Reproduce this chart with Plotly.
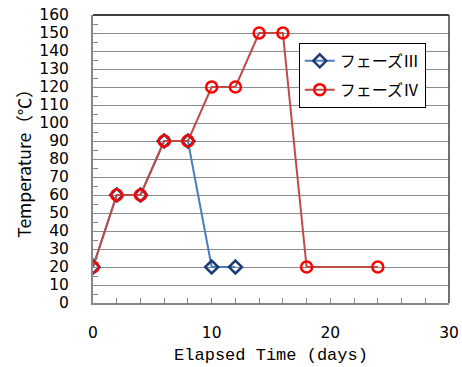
import plotly.graph_objects as go

days_3 = [0, 2, 4, 6, 8, 10, 12]
temp_3 = [20, 60, 60, 90, 90, 20, 20]
days_4 = [0, 2, 4, 6, 8, 10, 12, 14, 16, 18, 24]
temp_4 = [20, 60, 60, 90, 90, 120, 120, 150, 150, 20, 20]
name_3 = "フェーズⅢ"
name_4 = "フェーズⅣ"

tick_font = dict(family="DejaVu Sans", size=15.5, color="#000000")

fig = go.Figure()
fig.add_trace(go.Scatter(
    x=days_3, y=temp_3, name=name_3, mode="lines+markers", legendgroup="g3",
    line=dict(color="#4a7ebb", width=2),
    marker=dict(symbol="diamond-open", size=10, color="#1f3b73", line=dict(width=2.5, color="#1f3b73")),
))
fig.add_trace(go.Scatter(
    x=days_4, y=temp_4, name=name_4, mode="lines+markers", legendgroup="g4",
    line=dict(color="#be4b48", width=2),
    marker=dict(symbol="circle-open", size=11, color="#ff0000", line=dict(width=2.5, color="#ff0000")),
))

fig.update_layout(
    width=462, height=367,
    margin=dict(l=93, r=13, t=15, b=64, autoexpand=False),
    paper_bgcolor="white", plot_bgcolor="white",
    showlegend=True,
    legend=dict(
        x=0.578, y=0.903, xanchor="left", yanchor="top",
        bgcolor="white", bordercolor="#000000", borderwidth=1,
        font=dict(family="Noto Sans CJK JP", size=16, color="#000000"),
        tracegroupgap=5,
    ),
    xaxis=dict(
        range=[0, 30], dtick=10, tick0=0, automargin=False,
        showgrid=False, zeroline=False,
        showline=True, linecolor="#868686", linewidth=2,
        ticks="inside", ticklen=5, tickcolor="#868686",
        minor=dict(dtick=2, ticks="inside", ticklen=5, tickcolor="#868686", showgrid=False),
        tickfont=tick_font, ticklabelstandoff=14, ticklabeloverflow="allow",
        title=dict(text="Elapsed Time (days)", font=dict(family="Liberation Mono", size=17, color="#000000"), standoff=8),
    ),
    yaxis=dict(
        range=[0, 160], dtick=10, tick0=0, automargin=False,
        showgrid=True, gridcolor="#8c8c8c", gridwidth=1, zeroline=False,
        showline=True, linecolor="#868686", linewidth=2,
        ticks="inside", ticklen=5, tickcolor="#868686",
        minor=dict(dtick=5, ticks="inside", ticklen=5, tickcolor="#868686", showgrid=False),
        tickfont=tick_font, ticklabelstandoff=19, ticklabeloverflow="allow",
        title=dict(text="Temperature（℃）", font=dict(family="Noto Sans CJK JP", size=17.5, color="#000000"), standoff=3),
    ),
)

# top and right frame lines
fig.add_shape(type="line", xref="paper", yref="paper", x0=0, x1=1, y0=1, y1=1,
              line=dict(color="#000000", width=1.5))
fig.add_shape(type="line", xref="paper", yref="paper", x0=1, x1=1, y0=0, y1=1,
              line=dict(color="#404040", width=1.5))

fig.write_html("out.html", config={"displayModeBar": False},
               post_script="document.body.style.margin='0';")
